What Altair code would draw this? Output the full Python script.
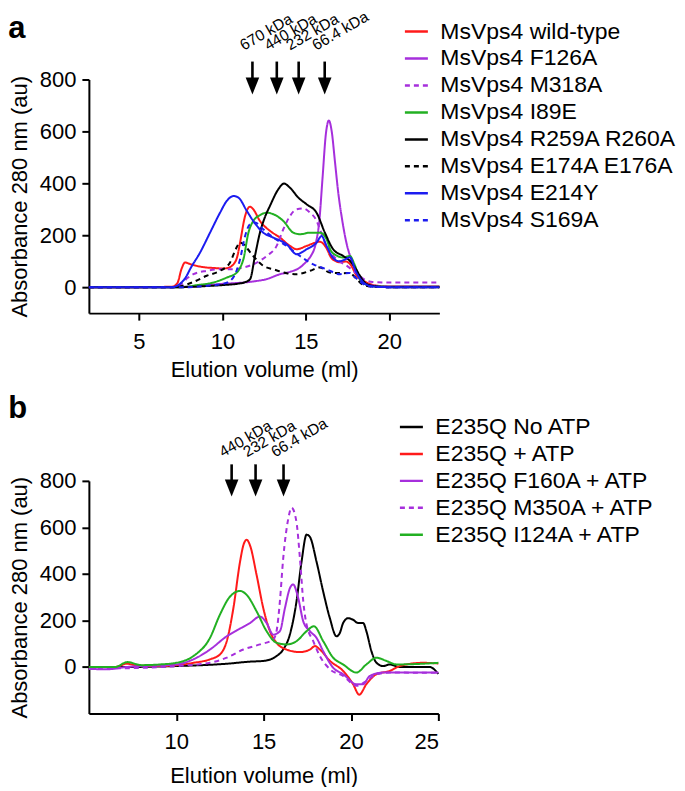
import altair as alt
import pandas as pd

FONT = "Liberation Sans"

# ---------------- Panel a data ----------------
a_names = ["MsVps4 wild-type", "MsVps4 F126A", "MsVps4 M318A", "MsVps4 I89E",
           "MsVps4 R259A R260A", "MsVps4 E174A E176A", "MsVps4 E214Y", "MsVps4 S169A"]
a_colors = ["#ff1a1a", "#a62fdc", "#a62fdc", "#22b022", "#000000", "#000000", "#1c1cf0", "#1c1cf0"]
a_dashes = [[1, 0], [1, 0], [5, 4], [1, 0], [1, 0], [5, 4], [1, 0], [5, 4]]

wt_x = [2, 5, 7.0, 7.3, 7.55, 7.76, 8.1, 8.46, 9.0, 9.46, 10.0, 10.26, 10.66, 10.9, 11.06, 11.36, 11.65, 11.85,
        12.25, 12.85, 13.45, 14.05, 14.45, 15.05, 15.5, 15.84, 16.24, 16.5, 16.8, 17.04, 17.4, 17.7, 18.04, 18.64,
        19.2, 20, 21, 22, 23]
wt_y = [0, 0, 2, 15, 70, 95, 88, 82, 76, 74, 72, 73, 88, 120, 172, 274, 310, 300,
        255, 217, 191, 159, 146, 159, 170, 175, 150, 115, 100, 96, 99, 85, 44, 18,
        6, 3, 3, 3, 3]

f126_x = [2, 7, 7.86, 9.86, 11.85, 12.65, 13.45, 14.05, 14.65, 15.05, 15.3, 15.6, 15.8, 16.0, 16.2, 16.38, 16.55,
          16.75, 16.95, 17.15, 17.4, 17.7, 18.0, 18.3, 18.7, 19.2, 20, 23]
f126_y = [0, 0, 2, 12, 22, 31, 50, 59, 76, 100, 120, 170, 250, 420, 590, 642, 600,
          480, 360, 270, 180, 110, 60, 28, 10, 5, 3, 3]

m318_x = [2, 7.0, 7.47, 7.9, 8.26, 9.06, 9.86, 10.66, 11.26, 11.85, 12.65, 13.25, 13.65, 14.05, 14.45, 14.85,
          15.25, 15.65, 15.84, 16.24, 16.64, 17.0, 17.5, 18.0, 18.5, 19.0, 20, 21, 22, 23]
m318_y = [0, 0, 8, 35, 50, 63, 69, 69, 76, 88, 120, 159, 223, 274, 300, 303,
          287, 255, 223, 159, 120, 100, 80, 55, 30, 20, 18, 18, 18, 18]

i89_x = [2, 7.5, 8.5, 9.46, 10.26, 10.86, 11.1, 11.26, 11.56, 11.85, 12.25, 12.65, 13.05, 13.65, 14.25, 14.65,
         15.25, 15.84, 16.24, 16.5, 16.9, 17.24, 17.64, 17.9, 18.24, 18.6, 19.0, 20, 23]
i89_y = [0, 0, 8, 18, 37, 56, 80, 108, 210, 255, 277, 287, 281, 255, 210, 204,
         210, 210, 185, 140, 120, 114, 120, 90, 31, 10, 3, 2, 2]

r259_x = [2, 7.5, 9, 10, 11, 11.3, 11.66, 11.95, 12.25, 12.55, 12.85, 13.35, 13.69, 14.05, 14.55, 15.05, 15.64,
          16.14, 16.64, 17.24, 17.64, 18.0, 18.24, 18.64, 19.2, 20, 23]
r259_y = [0, 0, 4, 8, 14, 18, 31, 120, 210, 270, 313, 377, 399, 383, 345, 319, 287,
          210, 146, 120, 101, 70, 44, 12, 3, 0, 0]

e174_x = [2, 7.0, 7.47, 8.26, 9.06, 9.86, 10.46, 10.8, 11.05, 11.3, 11.5, 11.85, 12.45, 13.05, 13.85, 14.45,
          15.25, 15.84, 16.44, 17.24, 17.6, 18.0, 18.4, 19.0, 20, 23]
e174_y = [0, 0, 3, 20, 44, 63, 95, 146, 172, 163, 148, 120, 82, 69, 54, 50,
          63, 76, 56, 54, 55, 35, 10, 2, 0, 0]

e214_x = [2, 7.0, 7.27, 7.86, 8.06, 8.66, 9.26, 9.86, 10.26, 10.66, 10.96, 11.46, 11.85, 12.45, 13.05, 13.85,
          14.45, 15.05, 15.65, 15.94, 16.24, 16.6, 17.0, 17.3, 17.64, 18.0, 18.5, 19.0, 20, 23]
e214_y = [0, 0, 5, 44, 69, 133, 210, 287, 332, 351, 345, 294, 255, 210, 191, 165,
          127, 146, 172, 197, 159, 115, 100, 105, 115, 60, 15, 3, 0, 0]

s169_x = [2, 8, 9, 10, 10.46, 10.8, 11.06, 11.36, 11.65, 11.96, 12.45, 13.05, 13.85, 14.65, 15.45, 16.24,
          17.04, 17.6, 18.0, 18.5, 19.0, 20, 23]
s169_y = [0, 0, 5, 12, 24, 55, 108, 197, 242, 249, 223, 191, 159, 120, 88, 69,
          50, 55, 35, 10, 2, 0, 0]

a_series = [(wt_x, wt_y), (f126_x, f126_y), (m318_x, m318_y), (i89_x, i89_y),
            (r259_x, r259_y), (e174_x, e174_y), (e214_x, e214_y), (s169_x, s169_y)]

a_marker_ml = [11.8, 13.26, 14.57, 16.13]
a_marker_labels = ["670 kDa", "440 kDa", "232 kDa", "66.4 kDa"]
a_arrow_top, a_arrow_shaft_end, a_arrow_head, a_label_y = 869, 800, 775, 930

# ---------------- Panel b data ----------------
b_names = ["E235Q No ATP", "E235Q + ATP", "E235Q F160A + ATP", "E235Q M350A + ATP", "E235Q I124A + ATP"]
b_colors = ["#000000", "#ff1a1a", "#a62fdc", "#a62fdc", "#22b022"]
b_dashes = [[1, 0], [1, 0], [1, 0], [5, 4], [1, 0]]

noatp_x = [5, 7, 10, 12.89, 14.22, 14.98, 15.74, 16.12, 16.5, 16.88, 17.17, 17.46, 17.65, 18.03, 18.41, 18.79,
           19.17, 19.36, 19.55, 19.84, 20.12, 20.41, 20.7, 20.88, 21.17, 21.46, 21.84, 22.22, 22.79, 24.5, 25]
noatp_y = [0, 0, 4, 14, 23, 26, 47, 75, 139, 281, 452, 569, 559, 452, 324, 210,
           132, 146, 189, 210, 203, 189, 189, 154, 68, 18, 4, 11, 0, 0, -30]

atp_x = [5, 6.5, 7.17, 7.8, 9.08, 10.98, 11.93, 12.5, 12.89, 13.27, 13.65, 13.84, 14.03, 14.22, 14.6, 14.98,
         15.36, 15.74, 16.31, 17.08, 17.65, 17.94, 18.22, 18.8, 19.55, 20.12, 20.47, 20.88, 21.46, 22.22, 22.79,
         24.12, 25]
atp_y = [0, 0, 14, 6, 4, 18, 33, 54, 111, 253, 452, 523, 547, 523, 395, 253,
         154, 104, 75, 64, 75, 90, 75, 26, -17, -74, -119, -74, -31, -17, 4,
         18, 15]

f160_x = [5, 6, 7.17, 10, 10.98, 11.93, 12.89, 13.65, 14.22, 14.79, 15.17, 15.55, 15.93, 16.22, 16.5, 16.69,
          16.98, 17.27, 17.65, 18.03, 18.41, 18.98, 19.55, 20.31, 20.69, 21.08, 21.84, 25]
f160_y = [-8, -10, 0, 11, 33, 75, 132, 165, 189, 217, 189, 139, 154, 253, 338, 355,
          296, 196, 154, 125, 68, -3, -31, -74, -74, -38, -24, -24]

m350_x = [5, 7, 10, 11.93, 12.89, 13.84, 14.79, 15.55, 15.74, 15.93, 16.12, 16.41, 16.6, 16.88, 17.08, 17.27,
          17.46, 17.84, 18.22, 18.8, 19.55, 20.31, 20.88, 21.46, 22.22, 25]
m350_y = [-5, -5, 4, 18, 40, 75, 97, 118, 154, 281, 466, 637, 685, 623, 466, 281,
          182, 111, 47, -10, -38, -81, -60, -31, -24, -25]

i124_x = [5, 6.5, 7.2, 8, 9.08, 10, 10.98, 11.93, 12.5, 13.08, 13.65, 14.03, 14.6, 15.17, 15.74, 16.31,
          16.88, 17.46, 17.88, 18.41, 18.98, 19.55, 20.31, 20.88, 21.46, 22.03, 22.6, 24.12, 25]
i124_y = [0, 0, 21, 8, 11, 18, 47, 125, 225, 303, 327, 310, 239, 154, 104, 97,
          111, 154, 175, 111, 40, 11, -24, 11, 40, 26, 11, 14, 18]

b_series = [(noatp_x, noatp_y), (atp_x, atp_y), (f160_x, f160_y), (m350_x, m350_y), (i124_x, i124_y)]

b_marker_ml = [13.17, 14.54, 16.14]
b_marker_labels = ["440 kDa", "232 kDa", "66.4 kDa"]
b_arrow_top, b_arrow_shaft_end, b_arrow_head, b_label_y = 871, 800, 769, 922


def long_frame(names, series):
    rows = []
    for name, (xs, ys) in zip(names, series):
        for x, y in zip(xs, ys):
            rows.append({"sample": name, "ml": x, "au": y})
    return pd.DataFrame(rows)


HEAD = "M-0.8,-1L0.8,-1L0,1Z"


def panel(letter, names, colors, dashes, series, xdom, xticks, ydom, w, h,
          m_ml, m_labels, top, shaft_end, head, laby, legx, legy, title_dy, xtitle_pad):
    df = long_frame(names, series)
    xs = alt.Scale(domain=xdom, nice=False, zero=False)
    ys = alt.Scale(domain=ydom, nice=False, zero=False)
    xax = alt.Axis(values=xticks, title="Elution volume (ml)", titlePadding=xtitle_pad)
    yax = alt.Axis(values=[0, 200, 400, 600, 800], title="Absorbance 280 nm (au)")
    leg = alt.Legend(title=None, orient="none", legendX=legx, legendY=legy,
                     symbolType="stroke", symbolSize=530, symbolStrokeWidth=2.5,
                     labelFont=FONT, labelFontSize=23, labelColor="black",
                     labelLimit=400, labelOffset=11, rowPadding=2)
    lines = alt.Chart(df).mark_line(strokeWidth=2, interpolate="monotone").encode(
        x=alt.X("ml:Q", scale=xs, axis=xax),
        y=alt.Y("au:Q", scale=ys, axis=yax),
        color=alt.Color("sample:N", scale=alt.Scale(domain=names, range=colors), legend=leg),
        strokeDash=alt.StrokeDash("sample:N", scale=alt.Scale(domain=names, range=dashes), legend=leg),
    )
    shaft_df = pd.DataFrame({"ml": m_ml, "au": [top] * len(m_ml), "au2": [shaft_end] * len(m_ml)})
    head_df = pd.DataFrame({"ml": m_ml, "au": [head] * len(m_ml)})
    lab_df = pd.DataFrame({"ml": m_ml, "au": [laby] * len(m_ml), "label": m_labels})
    shafts = alt.Chart(shaft_df).mark_rule(color="black", strokeWidth=2.6).encode(
        x=alt.X("ml:Q", scale=xs, axis=xax), y=alt.Y("au:Q", scale=ys, axis=yax), y2="au2:Q")
    heads = alt.Chart(head_df).mark_point(shape=HEAD, size=289, filled=True, color="black",
                                          opacity=1, strokeWidth=0).encode(
        x=alt.X("ml:Q", scale=xs, axis=xax), y=alt.Y("au:Q", scale=ys, axis=yax))
    labels = alt.Chart(lab_df).mark_text(angle=330, align="left", baseline="alphabetic",
                                         fontSize=15.5, font=FONT, color="black", dx=-10).encode(
        x=alt.X("ml:Q", scale=xs, axis=xax), y=alt.Y("au:Q", scale=ys, axis=yax), text="label:N")
    return alt.layer(lines, shafts, heads, labels).properties(
        width=w, height=h,
        title=alt.TitleParams(letter, anchor="start", fontSize=31, fontWeight="bold",
                              font=FONT, color="black", offset=0, dy=title_dy),
    )


pa = panel("a", a_names, a_colors, a_dashes, a_series, [2, 23], [5, 10, 15, 20], [-100, 800], 351, 234,
           a_marker_ml, a_marker_labels, a_arrow_top, a_arrow_shaft_end, a_arrow_head, a_label_y,
           315, -61, 36, 7)
pb = panel("b", b_names, b_colors, b_dashes, b_series, [5, 25], [10, 15, 20, 25], [-200, 800], 350, 233,
           b_marker_ml, b_marker_labels, b_arrow_top, b_arrow_shaft_end, b_arrow_head, b_label_y,
           310, -67, 11, 13)

chart = alt.vconcat(pa, pb, spacing=168, bounds="flush").resolve_scale(
    color="independent", strokeDash="independent", x="independent", y="independent"
).properties(padding={"left": 0, "top": 0, "right": 0, "bottom": 0}).configure_view(stroke=None).configure_axis(
    domainColor="black", domainWidth=2, tickColor="black", tickWidth=2, tickSize=7,
    labelFont=FONT, labelFontSize=22, labelColor="black",
    titleFont=FONT, titleFontSize=22, titleFontWeight="normal", titleColor="black",
    grid=False,
).configure_axisY(labelPadding=6, titlePadding=8).configure_axisX(labelPadding=11)

chart.save("out.html", embed_options={"renderer": "svg", "actions": False})
